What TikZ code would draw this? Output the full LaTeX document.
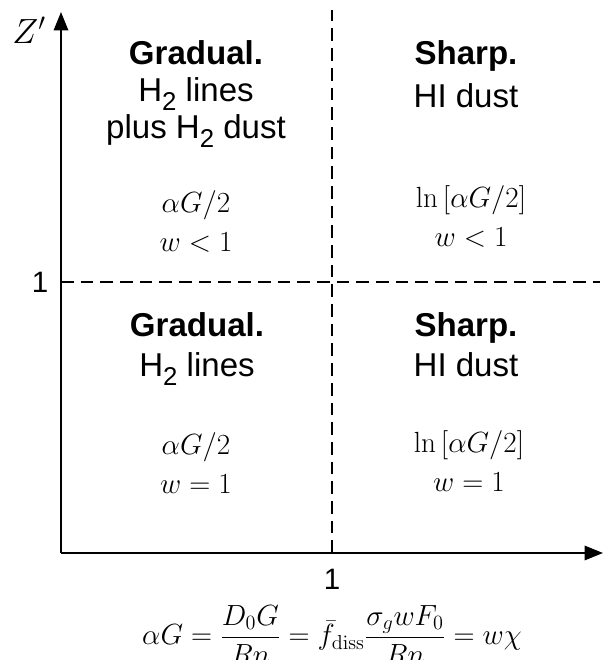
\documentclass[tikz,border=0pt]{standalone}
\usepackage[no-math]{fontspec}
\setmainfont{Liberation Sans}
\usepackage{amsmath}
\usetikzlibrary{arrows.meta, positioning}
\newcommand{\Htwo}{H\raisebox{-0.27em}{\scalebox{0.78}{2}}}

\begin{document}
\begin{tikzpicture}[
    x=0.025cm, y=0.025cm,
    axis/.style={line width=1.4pt, -{Triangle[length=4.6mm, width=3.6mm]}},
    divider/.style={line width=0.9pt, dash pattern=on 9pt off 5pt},
    regime/.style={align=center, inner sep=0pt, anchor=north, font=\fontsize{23.5}{26.5}\selectfont},
    rate/.style={align=center, inner sep=0pt, anchor=north, font=\fontsize{21.5}{28}\selectfont},
    ticklabel/.style={inner sep=0pt, font=\fontsize{21}{24}\selectfont}
]
    \useasboundingbox (0,0) rectangle (604,660);

    \coordinate (origin) at (61,107);
    \coordinate (ytip) at (61,648);
    \coordinate (xtip) at (603,107);
    \coordinate (hleft) at (61,378);
    \coordinate (hright) at (600,378);
    \coordinate (vbottom) at (332,107);
    \coordinate (vtop) at (332,650);

    \draw [divider] (hleft) -- (hright);
    \draw [divider] (vbottom) -- (vtop);
    \draw [axis] (origin) -- (ytip);
    \draw [axis] (origin) -- (xtip);

    \node (zlabel) [font=\fontsize{27}{30}\selectfont] at (29,630) {$Z'$};
    \node (yone) [ticklabel] at (40,378) {1};
    \node (xone) [ticklabel] at (332,81) {1};

    \node (tlregime) [regime] at (196,620) {\textbf{Gradual.}\\\Htwo{} lines\\plus \Htwo{} dust};
    \node (trregime) [regime] at (466,620) {\textbf{Sharp.}\\[4pt]HI dust};
    \node (blregime) [regime] at (197,348) {\textbf{Gradual.}\\[2pt]\Htwo{} lines};
    \node (brregime) [regime] at (466,348) {\textbf{Sharp.}\\[2pt]HI dust};

    \node (tlrate) [rate] at (196,470) {$\alpha G/2$\\$w<1$};
    \node (trrate) [rate] at (471,475) {$\ln\left[\alpha G/2\right]$\\$w<1$};
    \node (blrate) [rate] at (196,228) {$\alpha G/2$\\$w=1$};
    \node (brrate) [rate] at (469,230) {$\ln\left[\alpha G/2\right]$\\$w=1$};

    \node (defn) [font=\fontsize{22}{26}\selectfont] at (332,25)
        {$\displaystyle \alpha G=\frac{D_0G}{Rn}=\bar{f}_{\mathrm{diss}}\frac{\sigma_g wF_0}{Rn}=w\chi$};
\end{tikzpicture}
\end{document}
